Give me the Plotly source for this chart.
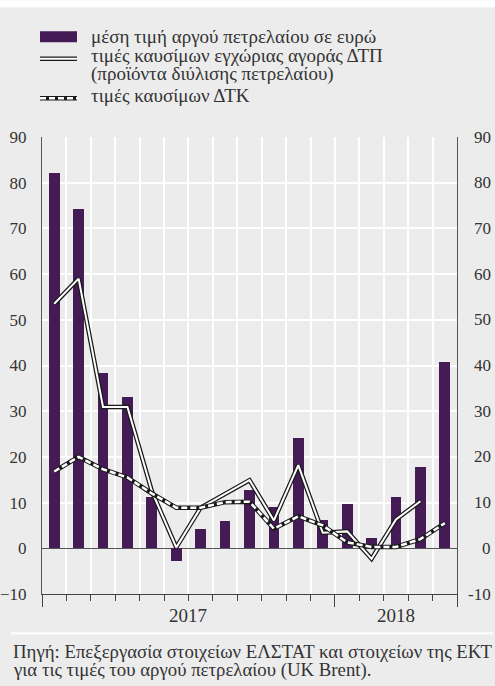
import plotly.graph_objects as go

# monthly data, Jan 2017 - May 2018
months = ["Ιαν 17", "Φεβ 17", "Μαρ 17", "Απρ 17", "Μάι 17", "Ιούν 17", "Ιούλ 17", "Αύγ 17",
          "Σεπ 17", "Οκτ 17", "Νοέ 17", "Δεκ 17", "Ιαν 18", "Φεβ 18", "Μαρ 18", "Απρ 18", "Μάι 18"]
crude_eur = [82.1, 74.2, 38.3, 33.1, 11.2, -2.8, 4.2, 5.9, 12.7, 9.0, 24.1, 6.3, 9.8, 2.2, 11.2, 17.9, 40.7]
dtp_prices = [53.5, 59.0, 30.9, 30.9, 12.5, 0.2, 8.9, 11.9, 14.9, 6.1, 18.2, 3.4, 3.7, -2.3, 6.3, 10.3, None]
dtk_prices = [16.8, 20.0, 17.3, 15.5, 12.0, 8.9, 8.9, 10.1, 10.2, 4.3, 7.0, 5.0, 1.3, 0.3, 0.3, 2.0, 5.5]
y_ticks = [-10, 0, 10, 20, 30, 40, 50, 60, 70, 80, 90]
years = ["2017", "2018"]
year_centers = [5.5, 14]
year_bounds = [-0.5, 11.5, 16.5]

legend_labels = ["μέση τιμή αργού πετρελαίου σε ευρώ",
                 "τιμές καυσίμων εγχώριας αγοράς ΔΤΠ",
                 "(προϊόντα διύλισης πετρελαίου)",
                 "τιμές καυσίμων ΔΤΚ"]
source_lines = ["Πηγή: Επεξεργασία στοιχείων ΕΛΣΤΑΤ και στοιχείων της ΕΚΤ",
                "για τις τιμές του αργού πετρελαίου (UK Brent)."]

PURPLE = "#441b55"
BG = "#ececec"
TXT = "#333333"
FONT = "Liberation Serif"

W, H = 495, 686
L, R, T, B = 42, 457, 136.7, 593.7


def px(x):
    return (x - L) / (R - L)


def py(y):
    return (B - y) / (B - T)


x = list(range(len(months)))

fig = go.Figure()
fig.add_trace(go.Bar(x=x, y=crude_eur, width=0.44, marker_color=PURPLE, marker_line_width=0))
# double line for ΔΤΠ
fig.add_trace(go.Scatter(x=x, y=dtp_prices, mode="lines", line=dict(color="#1a1a1a", width=4.5)))
fig.add_trace(go.Scatter(x=x, y=dtp_prices, mode="lines", line=dict(color="white", width=2)))
# dashed line for ΔΤΚ
fig.add_trace(go.Scatter(x=x, y=dtk_prices, mode="lines", line=dict(color="#1a1a1a", width=4.5)))
fig.add_trace(go.Scatter(x=x, y=dtk_prices, mode="lines", line=dict(color="white", width=2.5, dash="6px,3px")))
# invisible trace so the year-boundary tick axis is drawn
fig.add_trace(go.Scatter(x=[0], y=[0], xaxis="x2", mode="markers", marker_opacity=0, hoverinfo="skip"))

tick_font = dict(family=FONT, size=17, color=TXT)

fig.update_layout(
    width=W, height=H,
    margin=dict(l=L, r=W - R, t=T, b=H - B),
    paper_bgcolor=BG, plot_bgcolor=BG,
    showlegend=False,
    font=dict(family=FONT, color=TXT),
    bargap=0,
    xaxis=dict(
        range=[-0.5, 16.5], automargin=False,
        tickvals=[i + 0.5 for i in range(-1, 17)],
        showticklabels=False,
        showgrid=True, gridcolor="white", gridwidth=1.5,
        ticks="outside", ticklen=6, tickcolor="#444", tickwidth=1,
        showline=True, linecolor="#444", linewidth=1.2,
        zeroline=False,
    ),
    xaxis2=dict(
        overlaying="x", matches="x", range=[-0.5, 16.5], automargin=False,
        tickvals=year_bounds, showticklabels=False, showgrid=False,
        ticks="outside", ticklen=12, tickcolor="#444", tickwidth=1.2,
        zeroline=False, side="bottom",
    ),
    yaxis=dict(
        range=[-10, 90], tickvals=y_ticks, automargin=False,
        showgrid=True, gridcolor="white", gridwidth=1.5,
        zeroline=True, zerolinecolor="#555", zerolinewidth=1.2,
        showline=True, mirror=True, linecolor="#555", linewidth=1.2,
        ticks="outside", ticklen=11, tickcolor=BG, tickfont=tick_font,
    ),
)

shapes = []
annotations = []

# right-hand tick labels, right aligned like the original
for v in y_ticks:
    annotations.append(dict(text=str(v), xref="paper", yref="y", x=px(492.5), y=v,
                            xanchor="right", yanchor="middle", showarrow=False, font=tick_font))

# white band at the top
shapes.append(dict(type="rect", xref="paper", yref="paper", x0=px(0), x1=px(W), y0=py(0), y1=py(7),
                   fillcolor="white", line_width=0, layer="below"))

# legend symbols
shapes.append(dict(type="rect", xref="paper", yref="paper", x0=px(40), x1=px(77), y0=py(31), y1=py(42),
                   fillcolor=PURPLE, line_width=0))
shapes.append(dict(type="line", xref="paper", yref="paper", x0=px(40), x1=px(77), y0=py(58.5), y1=py(58.5),
                   line=dict(color="#1a1a1a", width=4.5)))
shapes.append(dict(type="line", xref="paper", yref="paper", x0=px(40), x1=px(77), y0=py(58.5), y1=py(58.5),
                   line=dict(color="white", width=2)))
shapes.append(dict(type="line", xref="paper", yref="paper", x0=px(40), x1=px(77), y0=py(98), y1=py(98),
                   line=dict(color="#1a1a1a", width=4.5)))
shapes.append(dict(type="line", xref="paper", yref="paper", x0=px(40), x1=px(77), y0=py(98), y1=py(98),
                   line=dict(color="white", width=2.5, dash="6px,3px")))

legend_y = [36, 55, 74, 95]
for label, ly in zip(legend_labels, legend_y):
    annotations.append(dict(text=label, xref="paper", yref="paper", x=px(89), y=py(ly),
                            xanchor="left", yanchor="middle", showarrow=False,
                            font=dict(family=FONT, size=19, color=TXT)))

# year labels
for yr, xc in zip(years, year_centers):
    annotations.append(dict(text=yr, xref="x", yref="paper", x=xc, y=py(615),
                            xanchor="center", yanchor="middle", showarrow=False,
                            font=dict(family=FONT, size=19, color=TXT)))

# separator line and source note
shapes.append(dict(type="line", xref="paper", yref="paper", x0=px(11), x1=px(493), y0=py(633), y1=py(633),
                   line=dict(color="white", width=2)))
for line, ly in zip(source_lines, [651, 670]):
    annotations.append(dict(text=line, xref="paper", yref="paper", x=px(11), y=py(ly),
                            xanchor="left", yanchor="middle", showarrow=False,
                            font=dict(family=FONT, size=18.8, color=TXT)))

fig.update_layout(shapes=shapes, annotations=annotations)

# drop the browser's default 8px page margin so the figure fills the window
fig.write_html("out.html", config={"displayModeBar": False},
               post_script="document.body.style.margin='0';")
